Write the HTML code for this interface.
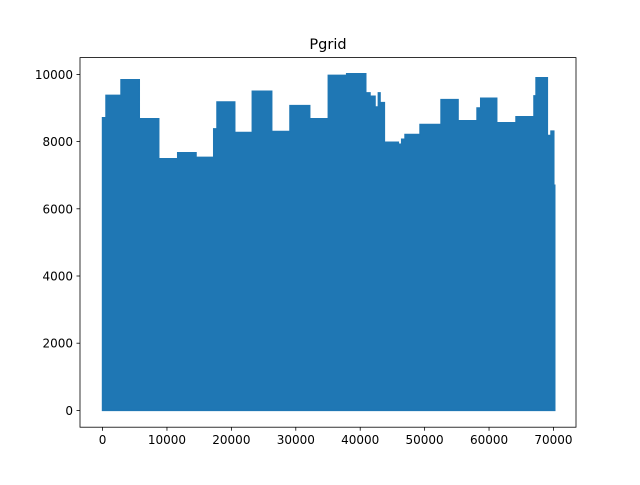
<!DOCTYPE html>
<html><head><meta charset="utf-8"><style>
body{margin:0;background:#fff;}
svg text{font-family:"DejaVu Sans","Liberation Sans",sans-serif;fill:#000;}
</style></head><body>
<svg id="chart" width="640" height="480" viewBox="0 0 640 480" xmlns="http://www.w3.org/2000/svg">
<rect width="640" height="480" fill="#fff"/>
<text x="328" y="49" font-size="14.5" text-anchor="middle">Pgrid</text>
<g id="plot"></g>
<rect x="80" y="57.6" width="496" height="369.6" fill="none" stroke="#000" stroke-width="0.8"/>
<g id="xticks"></g><g id="yticks"></g>
</svg>
<script>
const segStart=[0,540,2870,5700,8720,11670,14510,17260,17770,20520,23250,26260,29100,32160,35050,37900,40860,41520,42300,42820,43080,43750,45920,46440,46960,49290,52550,55190,58140,58710,61190,64190,66980,67300,69050,69620,70050];
const segValue=[8710,9375,9840,8680,7490,7670,7530,8380,9180,8270,9500,8300,9070,8680,9970,10020,9450,9350,9030,9450,9160,7980,7920,8070,8210,8510,9250,8620,9000,9290,8560,8740,9360,9900,8180,8310,6700];
const dataEnd=70200;
const xTicks=[0,10000,20000,30000,40000,50000,60000,70000];
const yTicks=[0,2000,4000,6000,8000,10000];
const L=80,R=576,T=57.6,B=427.2,xmin=-3500,xmax=73500,ymin=-500,ymax=10500;
const sx=v=>L+(v-xmin)/(xmax-xmin)*(R-L);
const sy=v=>B-(v-ymin)/(ymax-ymin)*(B-T);
const NS="http://www.w3.org/2000/svg";
let d="M"+sx(segStart[0])+","+sy(0);
for(let i=0;i<segStart.length;i++){
 const x0=sx(segStart[i]),x1=sx(i+1<segStart.length?segStart[i+1]:dataEnd);
 d+=" L"+x0+","+sy(segValue[i])+" L"+x1+","+sy(segValue[i]);
}
d+=" L"+sx(dataEnd)+","+sy(0)+" Z";
const p=document.createElementNS(NS,"path");


p.setAttribute("d",d);p.setAttribute("fill","#1f77b4");p.setAttribute("stroke","#1f77b4");p.setAttribute("stroke-width","1.5");p.setAttribute("stroke-linejoin","miter");
document.getElementById("plot").appendChild(p);
const xg=document.getElementById("xticks");
xTicks.forEach(v=>{
 const l=document.createElementNS(NS,"line");
 
 
 l.setAttribute("x1",sx(v));l.setAttribute("x2",sx(v));l.setAttribute("y1",B);l.setAttribute("y2",B+3.5);l.setAttribute("stroke","#000");l.setAttribute("stroke-width","0.8");
 xg.appendChild(l);
 const t=document.createElementNS(NS,"text");
 
 
 t.setAttribute("x",sx(v));t.setAttribute("y",B+17);t.setAttribute("font-size","12");t.setAttribute("text-anchor","middle");
 t.textContent=v;xg.appendChild(t);
});
const yg=document.getElementById("yticks");
yTicks.forEach(v=>{
 const l=document.createElementNS(NS,"line");
 
 
 l.setAttribute("x1",L-3.5);l.setAttribute("x2",L);l.setAttribute("y1",sy(v));l.setAttribute("y2",sy(v));l.setAttribute("stroke","#000");l.setAttribute("stroke-width","0.8");
 yg.appendChild(l);
 const t=document.createElementNS(NS,"text");
 
 
 t.setAttribute("x",L-7);t.setAttribute("y",sy(v)+4.5);t.setAttribute("font-size","12");t.setAttribute("text-anchor","end");
 t.textContent=v;yg.appendChild(t);
});
</script>
</body></html>
